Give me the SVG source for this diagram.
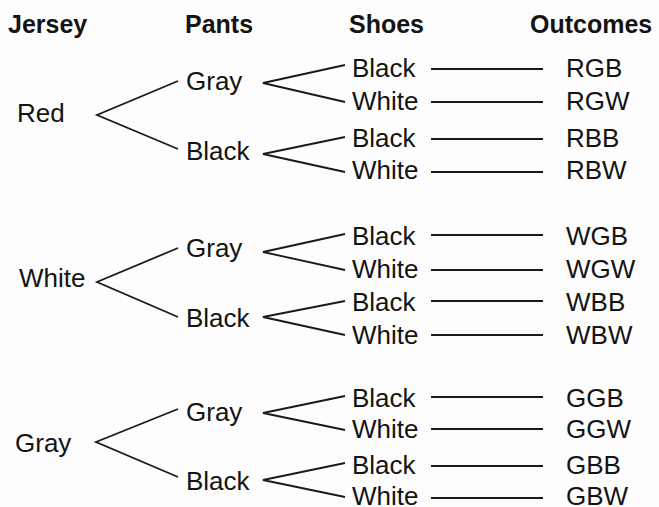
<svg xmlns="http://www.w3.org/2000/svg" width="659" height="507" viewBox="0 0 659 507">
<style>
text{font-family:"Liberation Sans",Arial,sans-serif;font-size:26px;fill:#141414}
.h{font-weight:bold;font-size:25px}
line,polyline{stroke:#1a1a1a;stroke-width:1.8;fill:none}
</style>
<rect width="659" height="507" fill="#fdfdfd"/>
<g id="headers">
<text class="h" x="8" y="33">Jersey</text>
<text class="h" x="185" y="33">Pants</text>
<text class="h" x="349" y="33">Shoes</text>
<text class="h" x="530" y="33">Outcomes</text>
</g>
<g id="connectors">
<polyline points="178,81 97,115 178,149"/>
<polyline points="345,65 263,83 345,102"/>
<polyline points="345,137 263,154 345,172"/>
<polyline points="178,248 97,282 178,317"/>
<polyline points="345,234 263,252 345,270"/>
<polyline points="345,301 263,317 345,335"/>
<polyline points="178,409 96,442 178,477"/>
<polyline points="345,396 263,413 345,430"/>
<polyline points="345,463 263,480 345,497"/>
<line x1="431" y1="69" x2="543" y2="69"/>
<line x1="431" y1="102" x2="543" y2="102"/>
<line x1="431" y1="139" x2="543" y2="139"/>
<line x1="431" y1="172" x2="543" y2="172"/>
<line x1="431" y1="235" x2="543" y2="235"/>
<line x1="431" y1="270" x2="543" y2="270"/>
<line x1="431" y1="301" x2="543" y2="301"/>
<line x1="431" y1="335" x2="543" y2="335"/>
<line x1="431" y1="397" x2="543" y2="397"/>
<line x1="431" y1="429" x2="543" y2="429"/>
<line x1="431" y1="466" x2="543" y2="466"/>
<line x1="431" y1="498" x2="543" y2="498"/>
</g>
<g id="jersey-red"><text x="17" y="122">Red</text></g>
<g id="jersey-white"><text x="19" y="287">White</text></g>
<g id="jersey-gray"><text x="15" y="452">Gray</text></g>
<g id="pants-r-gray"><text x="186" y="90">Gray</text></g>
<g id="pants-r-black"><text x="186" y="160">Black</text></g>
<g id="pants-w-gray"><text x="186" y="257">Gray</text></g>
<g id="pants-w-black"><text x="186" y="327">Black</text></g>
<g id="pants-g-gray"><text x="186" y="421">Gray</text></g>
<g id="pants-g-black"><text x="186" y="490">Black</text></g>
<g id="shoes">
<text x="352" y="77">Black</text>
<text x="352" y="110">White</text>
<text x="352" y="147">Black</text>
<text x="352" y="179">White</text>
<text x="352" y="245">Black</text>
<text x="352" y="278">White</text>
<text x="352" y="311">Black</text>
<text x="352" y="344">White</text>
<text x="352" y="407">Black</text>
<text x="352" y="438">White</text>
<text x="352" y="474">Black</text>
<text x="352" y="505">White</text>
</g>
<g id="outcomes">
<text x="566" y="77">RGB</text>
<text x="566" y="110">RGW</text>
<text x="566" y="147">RBB</text>
<text x="566" y="179">RBW</text>
<text x="566" y="245">WGB</text>
<text x="566" y="278">WGW</text>
<text x="566" y="311">WBB</text>
<text x="566" y="344">WBW</text>
<text x="566" y="407">GGB</text>
<text x="566" y="438">GGW</text>
<text x="566" y="474">GBB</text>
<text x="566" y="505">GBW</text>
</g>
</svg>
